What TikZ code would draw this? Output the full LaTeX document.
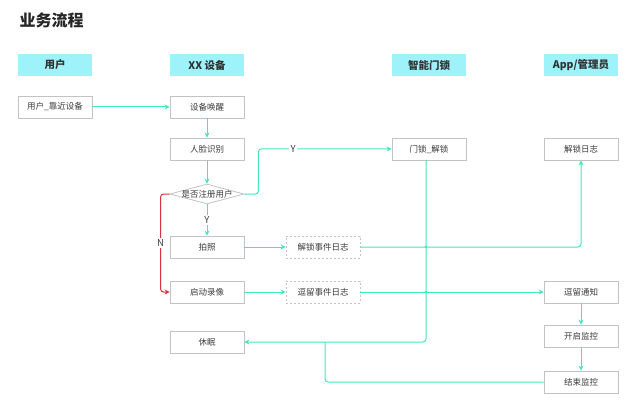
\documentclass[tikz,border=0pt]{standalone}
\usepackage{fontspec}
\setmainfont{Noto Sans CJK SC}
\usetikzlibrary{arrows.meta,shapes.geometric,calc}
\definecolor{hdr}{RGB}{158,243,250}
\definecolor{flow}{RGB}{64,232,190}
\definecolor{bord}{RGB}{195,195,195}
\definecolor{txt}{RGB}{60,60,60}
\definecolor{nred}{RGB}{215,50,60}
\begin{document}
\begin{tikzpicture}[x=1pt,y=-1pt,
  hdrbox/.style={fill=hdr, minimum width=74pt, minimum height=22pt, inner sep=0pt, font=\fontsize{10.5}{12}\selectfont\bfseries, text=black!80},
  box/.style={draw=bord, fill=white, line width=0.8pt, minimum width=74pt, minimum height=22pt, inner sep=0pt, font=\fontsize{8.5}{10}\selectfont, text=txt},
  dbox/.style={box, dash pattern=on 2pt off 2pt},
  flowline/.style={draw=flow, line width=1.0pt, rounded corners=3pt, -{Stealth[length=5pt,width=5pt]}},
  flowplain/.style={draw=flow, line width=1.0pt, rounded corners=3pt},
  redline/.style={draw=nred, line width=1.0pt, rounded corners=3pt, -{Stealth[length=5pt,width=5pt]}},
  lbl/.style={fill=white, inner sep=1.5pt, font=\fontsize{9.5}{11}\selectfont, text=txt}
]
\useasboundingbox (0,0) rectangle (640,409);
\node[anchor=west, font=\fontsize{16}{19}\selectfont\bfseries, text=black!85] (title) at (16,20) {业务流程};

\node[hdrbox] (h1) at (55,65) {用户};
\node[hdrbox] (h2) at (207,65) {XX 设备};
\node[hdrbox] (h3) at (429,65) {智能门锁};
\node[hdrbox] (h4) at (581,65) {App/管理员};

\node[box] (u1) at (55,107) {用户\_靠近设备};
\node[box] (wake) at (207,107) {设备唤醒};
\node[box] (face) at (207,149) {人脸识别};
\node[draw=bord, fill=white, line width=0.8pt, diamond, minimum width=74pt, minimum height=20pt, inner sep=0pt] (dec) at (207,194) {};
\node[font=\fontsize{8.5}{10}\selectfont, text=txt, inner sep=0pt] (dect) at (dec) {是否注册用户};
\node[box] (photo) at (207,247) {拍照};
\node[box] (rec) at (207,292) {启动录像};
\node[box] (sleep) at (207,342) {休眠};
\node[dbox] (ev1) at (323,247) {解锁事件日志};
\node[dbox] (ev2) at (323,292) {逗留事件日志};
\node[box] (lock) at (429,149) {门锁\_解锁};
\node[box] (log) at (581,149) {解锁日志};
\node[box] (notify) at (581,292) {逗留通知};
\node[box] (mon) at (581,336) {开启监控};
\node[box] (endm) at (581,382) {结束监控};
\coordinate (mrg) at (325,342);
\coordinate (lockb) at (426,160);
\coordinate (j1) at (426,247);
\coordinate (j2) at (426,292);

\draw[flowline] (u1) -- (wake);
\draw[flowline] (wake) -- (face);
\draw[flowline] (face) -- (dec.north);
\draw[flowline] (dec.east) -- ++(14,0) |- node[lbl, pos=0.63] {Y} (lock.west);
\draw[flowline] (dec.south) -- node[lbl] {Y} (photo.north);
\draw[redline] (dec.west) -- ++(-9,0) |- node[lbl, pos=0.25] {N} (rec.west);
\draw[flowline] (photo) -- (ev1);
\draw[flowline] (rec) -- (ev2);
\draw[flowline] (lockb) |- (sleep.east);
\draw[flowline] (ev1.east) -| (log.south);
\draw[flowline] (ev2) -- (notify);
\draw[flowline] (notify) -- (mon);
\draw[flowline] (mon) -- (endm);
\draw[flowplain] (endm.west) -| (mrg);
\fill[flow] (j1) circle (1.3pt);
\fill[flow] (j2) circle (1.3pt);
\end{tikzpicture}
\end{document}
